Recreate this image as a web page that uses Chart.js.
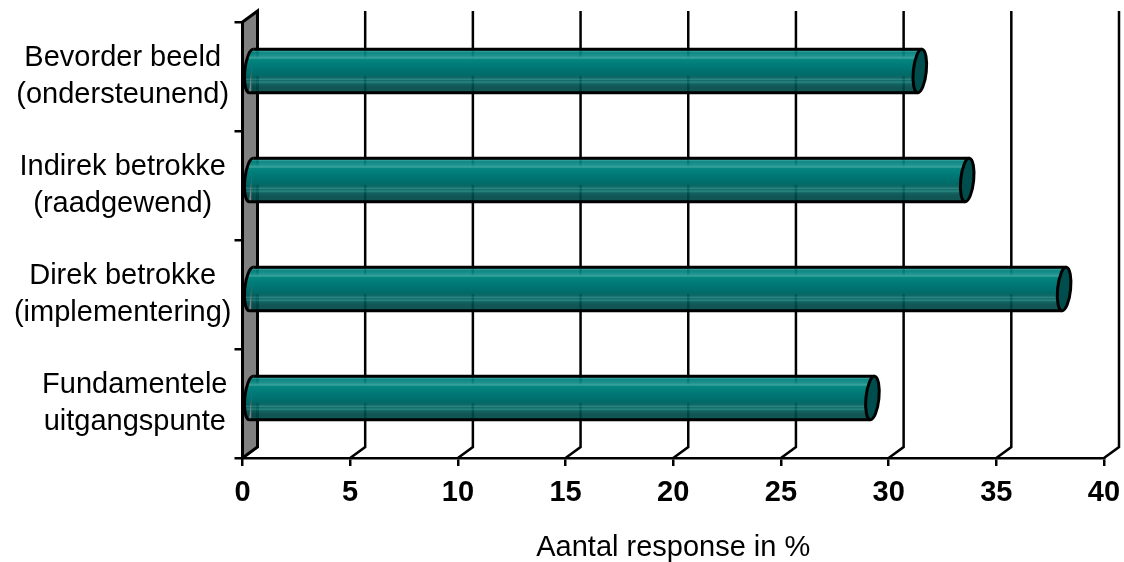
<!DOCTYPE html>
<html>
<head>
<meta charset="utf-8">
<title>Aantal response</title>
<script src="https://cdn.jsdelivr.net/npm/chart.js@4"></script>
<style>
    html, body { margin: 0; padding: 0; background: #fff; }
    #wrap { width: 1124px; height: 562px; }
</style>
</head>
<body>
<div id="wrap"><canvas id="chart" width="1124" height="562"></canvas></div>
<script>
const categories = [
    ['Bevorder beeld', '(ondersteunend)'],
    ['Indirek betrokke', '(raadgewend)'],
    ['Direk betrokke', '(implementering)'],
    ['   Fundamentele', '   uitgangspunte']
];
const responseValues = [31.1, 33.3, 37.8, 28.9];
const xTicks = [0, 5, 10, 15, 20, 25, 30, 35, 40];
const axisTitle = 'Aantal response in %';

const FONT = '"Liberation Sans", Arial, sans-serif';
const DEPTH_X = 15, DEPTH_Y = 11;
const CAP_TILT = 0.1;

// teal stripes of the tube, top to bottom
const tubeStops = [
    [0, 'rgba(0,90,90,0.93)'], [0.07, 'rgba(0,112,110,0.93)'], [0.1, 'rgba(35,155,150,0.93)'],
    [0.13, 'rgba(0,125,122,0.93)'], [0.17, 'rgba(40,158,152,0.93)'], [0.2, 'rgba(0,128,124,0.93)'],
    [0.27, 'rgba(15,138,134,0.95)'], [0.33, '#3aa39e'], [0.36, '#05867f'], [0.5, '#007a78'],
    [0.72, '#006a68'], [0.78, 'rgba(0,92,90,0.93)'], [0.82, 'rgba(25,125,120,0.93)'],
    [0.85, 'rgba(0,92,90,0.93)'], [0.88, 'rgba(28,128,122,0.93)'], [0.92, 'rgba(0,88,86,0.93)'],
    [1, 'rgba(0,72,72,0.93)']
];

function tubeFill(ctx) {
    const chart = ctx.chart, y = chart.scales.y;
    if (!y || ctx.dataIndex === undefined) return '#007674';
    const mid = y.getPixelForTick(ctx.dataIndex) - DEPTH_Y / 2;
    const half = Math.abs(y.getPixelForTick(1) - y.getPixelForTick(0)) * 0.2;
    const g = chart.ctx.createLinearGradient(0, mid - half, 0, mid + half);
    tubeStops.forEach(s => g.addColorStop(s[0], s[1]));
    return g;
}

// side wall and the back grid lines with their slanted feet
const backWall = {
    id: 'backWall',
    beforeDatasetsDraw(chart) {
        const c = chart.ctx, a = chart.chartArea, x = chart.scales.x;
        c.save();
        c.lineWidth = 2.5;
        c.strokeStyle = '#000';
        xTicks.slice(1).forEach(t => {
            const px = x.getPixelForValue(t);
            c.beginPath();
            c.moveTo(px, a.bottom);
            c.lineTo(px + DEPTH_X, a.bottom - DEPTH_Y);
            c.lineTo(px + DEPTH_X, a.top - DEPTH_Y);
            c.stroke();
        });
        const x0 = x.getPixelForValue(0);
        c.beginPath();
        c.moveTo(x0, a.bottom);
        c.lineTo(x0 + DEPTH_X, a.bottom - DEPTH_Y);
        c.lineTo(x0 + DEPTH_X, a.top - DEPTH_Y);
        c.lineTo(x0, a.top);
        c.closePath();
        c.fillStyle = '#808080';
        c.fill();
        c.lineWidth = 3;
        c.stroke();
        c.restore();
        // bars sit half way into the depth
        c.save();
        c.translate(DEPTH_X / 2, -DEPTH_Y / 2);
    },
    afterDatasetsDraw(chart) {
        const c = chart.ctx;
        const rx = 6.5;
        chart.getDatasetMeta(0).data.forEach((bar, i) => {
            const top = bar.y - bar.height / 2, ry = bar.height / 2;
            const lean = ry * Math.sin(CAP_TILT);
            c.lineWidth = 3;
            c.strokeStyle = '#000';
            // rounded left end
            c.beginPath();
            c.ellipse(bar.base, bar.y, rx, ry, CAP_TILT, Math.PI / 2, Math.PI * 1.5);
            c.closePath();
            c.fillStyle = tubeFill({ chart: chart, dataIndex: i });
            c.fill();
            c.beginPath();
            c.ellipse(bar.base, bar.y, rx, ry, CAP_TILT, Math.PI / 2, Math.PI * 1.5);
            c.stroke();
            // long edges
            c.beginPath();
            c.moveTo(bar.base + lean, top);
            c.lineTo(bar.x + lean, top);
            c.moveTo(bar.base - lean, top + bar.height);
            c.lineTo(bar.x - lean, top + bar.height);
            c.stroke();
            // cap
            c.beginPath();
            c.ellipse(bar.x, bar.y, rx, ry, CAP_TILT, 0, Math.PI * 2);
            c.fillStyle = '#004d4d';
            c.fill();
            c.stroke();
        });
        c.restore();
    }
};

new Chart(document.getElementById('chart'), {
    type: 'bar',
    data: {
        labels: categories,
        datasets: [{
            data: responseValues,
            backgroundColor: tubeFill,
            borderWidth: 0,
            barPercentage: 0.4,
            categoryPercentage: 1,
            clip: false
        }]
    },
    options: {
        indexAxis: 'y',
        responsive: false,
        animation: false,
        layout: { padding: { top: 22, right: 20, left: 0, bottom: 0 } },
        plugins: { legend: { display: false }, tooltip: { enabled: false } },
        scales: {
            x: {
                min: 0,
                max: 40,
                afterBuildTicks(s) { s.ticks = xTicks.map(v => ({ value: v })); },
                afterFit(s) { s.height = 104; s.paddingLeft = 0; s.paddingRight = 0; },
                grid: { drawOnChartArea: false, color: '#000', lineWidth: 2.5, tickLength: 8 },
                border: { color: '#000', width: 2.5 },
                ticks: {
                    color: '#000',
                    maxRotation: 0,
                    autoSkip: false,
                    padding: 10,
                    font: { family: FONT, size: 29, weight: 'bold' }
                },
                title: {
                    display: true,
                    text: axisTitle,
                    color: '#000',
                    padding: { top: 20, bottom: -3 },
                    font: { family: FONT, size: 29 }
                }
            },
            y: {
                afterFit(s) { s.width = 242.5; s.paddingTop = 0; s.paddingBottom = 0; },
                grid: { drawOnChartArea: false, color: '#000', lineWidth: 2.5, tickLength: 8 },
                border: { color: '#000', width: 2.5 },
                ticks: {
                    color: '#000',
                    crossAlign: 'center',
                    padding: 3,
                    autoSkip: false,
                    font: { family: FONT, size: 29, lineHeight: 1.3 }
                }
            }
        }
    },
    plugins: [backWall]
});
</script>
</body>
</html>
